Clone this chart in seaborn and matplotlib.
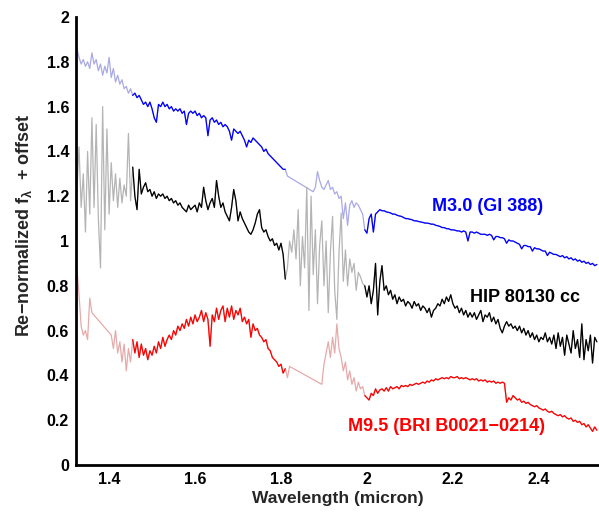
import numpy as np
import pandas as pd
import matplotlib
matplotlib.use("Agg")
import matplotlib.pyplot as plt
import seaborn as sns

nan = np.nan
# Sampling of all spectra: start 1.325 micron, step 0.005 micron, rows of 0.05 micron
WL_START = 1.325
WL_STEP = 0.005

# M3.0 (Gl 388)
m3_flux = [
    [1.86, 1.82, 1.79, 1.81, 1.78, 1.80, 1.77, 1.84, 1.79, 1.81],
    [1.76, 1.79, 1.74, 1.78, 1.75, 1.82, 1.73, 1.77, 1.71, 1.74],
    [1.70, 1.72, 1.68, 1.69, 1.66, 1.68, 1.65, 1.66, 1.64, 1.65],
    [1.63, 1.61, 1.62, 1.60, 1.62, 1.59, 1.55, 1.53, 1.61, 1.60],
    [1.62, 1.60, 1.61, 1.59, 1.60, 1.58, 1.59, 1.58, 1.59, 1.57],
    [1.58, 1.52, 1.57, 1.58, 1.57, 1.58, 1.56, 1.57, 1.55, 1.56],
    [1.55, 1.47, 1.54, 1.55, 1.53, 1.54, 1.52, 1.53, 1.51, 1.52],
    [1.51, 1.49, 1.45, 1.50, 1.49, 1.48, 1.49, 1.47, 1.45, 1.42],
    [1.45, 1.44, 1.46, 1.45, 1.44, 1.43, 1.42, 1.40, 1.41, 1.39],
    [1.38, 1.37, 1.36, 1.35, 1.34, 1.33, 1.32, 1.32, 1.29, nan],
    [nan, nan, nan, nan, nan, nan, nan, nan, nan, nan],
    [1.22, 1.24, 1.31, 1.27, 1.24, 1.23, 1.25, 1.27, 1.23, 1.24],
    [1.21, 1.22, 1.19, 1.20, 1.10, 1.17, 1.07, 1.16, 1.18, 1.15],
    [1.17, 1.16, 1.14, 1.12, 1.05, 1.035, 1.10, 1.12, 1.04, 1.12],
    [1.13, 1.14, 1.135, 1.135, 1.13, 1.128, 1.125, 1.12, 1.12, 1.115],
    [1.112, 1.11, 1.105, 1.10, 1.10, 1.097, 1.095, 1.09, 1.09, 1.087],
    [1.085, 1.083, 1.08, 1.08, 1.078, 1.075, 1.075, 1.07, 1.068, 1.065],
    [1.06, 1.06, 1.055, 1.055, 1.05, 1.05, 1.048, 1.045, 1.045, 1.04],
    [1.045, 1.04, 1.00, 1.04, 1.04, 1.035, 1.04, 1.035, 1.03, 1.03],
    [1.03, 1.025, 1.03, 1.025, 1.005, 1.02, 1.02, 1.015, 1.015, 1.01],
    [0.99, 1.005, 1.0, 1.0, 0.995, 0.99, 0.985, 0.965, 0.98, 0.98],
    [0.975, 0.975, 0.955, 0.97, 0.965, 0.965, 0.96, 0.955, 0.955, 0.935],
    [0.95, 0.945, 0.94, 0.94, 0.935, 0.93, 0.935, 0.925, 0.93, 0.92],
    [0.925, 0.915, 0.92, 0.91, 0.915, 0.905, 0.91, 0.90, 0.905, 0.895],
    [0.90, 0.89, 0.895],
]

# HIP 80130 cc
hip_flux = [
    [1.22, 1.42, 1.15, 1.30, 1.04, 1.40, 1.12, 1.55, 1.15, 1.52],
    [1.10, 0.88, 1.60, 1.05, 1.50, 1.12, 1.35, 1.18, 1.30, 1.15],
    [1.28, 1.17, 1.25, 1.20, 1.48, 1.18, 1.33, 1.20, 1.14, 1.32],
    [1.21, 1.24, 1.26, 1.22, 1.23, 1.20, 1.22, 1.19, 1.21, 1.20],
    [1.21, 1.19, 1.20, 1.18, 1.19, 1.17, 1.18, 1.16, 1.17, 1.15],
    [1.14, 1.13, 1.16, 1.14, 1.15, 1.16, 1.13, 1.17, 1.15, 1.24],
    [1.18, 1.14, 1.17, 1.19, 1.15, 1.27, 1.20, 1.15, 1.17, 1.13],
    [1.11, 1.09, 1.15, 1.23, 1.18, 1.09, 1.13, 1.10, 1.08, 1.06],
    [1.04, 1.03, 1.05, 1.08, 1.12, 1.14, 1.06, 1.04, 1.05, 1.02],
    [1.00, 1.01, 0.98, 0.99, 0.96, 0.99, 0.94, 0.83, 0.88, 1.00],
    [0.95, 1.05, 0.92, 1.14, 0.80, 1.02, 0.88, 1.24, 0.69, 1.20],
    [0.85, 1.05, 0.72, 0.98, 1.09, 0.80, 1.00, 0.68, 0.95, 1.11],
    [0.78, 0.65, 0.95, 1.125, 0.82, 0.96, 0.80, 0.92, 0.86, 0.90],
    [0.78, 0.86, 0.84, 0.81, 0.80, 0.75, 0.80, 0.72, 0.78, 0.90],
    [0.67, 0.82, 0.89, 0.78, 0.80, 0.76, 0.78, 0.74, 0.76, 0.72],
    [0.75, 0.73, 0.74, 0.71, 0.73, 0.72, 0.70, 0.73, 0.71, 0.72],
    [0.69, 0.71, 0.70, 0.68, 0.70, 0.66, 0.69, 0.70, 0.72, 0.71],
    [0.74, 0.72, 0.75, 0.73, 0.76, 0.72, 0.70, 0.71, 0.68, 0.70],
    [0.67, 0.69, 0.66, 0.68, 0.66, 0.68, 0.65, 0.67, 0.69, 0.64],
    [0.67, 0.66, 0.68, 0.64, 0.66, 0.63, 0.65, 0.61, 0.59, 0.62],
    [0.64, 0.62, 0.63, 0.61, 0.62, 0.60, 0.62, 0.59, 0.61, 0.58],
    [0.60, 0.57, 0.59, 0.56, 0.58, 0.55, 0.57, 0.56, 0.59, 0.55],
    [0.57, 0.54, 0.58, 0.52, 0.59, 0.53, 0.57, 0.49, 0.58, 0.54],
    [0.50, 0.60, 0.52, 0.56, 0.48, 0.63, 0.47, 0.56, 0.51, 0.58],
    [0.455, 0.57, 0.55],
]

# M9.5 (BRI B0021-0214)
m95_flux = [
    [0.88, 0.76, 0.62, 0.58, 0.60, 0.56, 0.745, 0.68, nan, nan],
    [nan, nan, nan, nan, nan, nan, 0.58, 0.52, 0.60, 0.50],
    [0.55, 0.46, 0.54, 0.42, 0.52, 0.46, 0.56, 0.50, 0.55, 0.48],
    [0.54, 0.49, 0.52, 0.47, 0.51, 0.49, 0.53, 0.50, 0.55, 0.52],
    [0.57, 0.53, 0.56, 0.58, 0.56, 0.60, 0.58, 0.62, 0.60, 0.63],
    [0.61, 0.65, 0.62, 0.66, 0.63, 0.67, 0.64, 0.66, 0.69, 0.64],
    [0.68, 0.65, 0.53, 0.67, 0.64, 0.70, 0.65, 0.69, 0.71, 0.64],
    [0.70, 0.66, 0.71, 0.65, 0.69, 0.67, 0.70, 0.64, 0.66, 0.63],
    [0.65, 0.57, 0.63, 0.60, 0.61, 0.58, 0.57, 0.55, 0.56, 0.52],
    [0.51, 0.48, 0.47, 0.46, 0.44, 0.45, 0.41, 0.43, 0.39, 0.44],
    [nan, nan, nan, nan, nan, nan, nan, nan, nan, nan],
    [nan, nan, nan, nan, 0.36, 0.45, 0.50, 0.55, 0.48, 0.57],
    [0.50, 0.63, 0.52, 0.48, 0.42, 0.46, 0.38, 0.42, 0.36, 0.39],
    [0.33, 0.37, 0.34, 0.35, 0.31, 0.30, 0.29, 0.32, 0.31, 0.34],
    [0.32, 0.335, 0.34, 0.33, 0.345, 0.33, 0.35, 0.34, 0.345, 0.35],
    [0.34, 0.355, 0.35, 0.355, 0.35, 0.36, 0.355, 0.36, 0.365, 0.36],
    [0.365, 0.37, 0.365, 0.375, 0.37, 0.38, 0.375, 0.385, 0.38, 0.385],
    [0.39, 0.385, 0.39, 0.385, 0.395, 0.39, 0.39, 0.395, 0.385, 0.39],
    [0.385, 0.39, 0.385, 0.38, 0.385, 0.38, 0.385, 0.375, 0.38, 0.375],
    [0.38, 0.37, 0.375, 0.37, 0.375, 0.365, 0.37, 0.365, 0.37, 0.365],
    [0.28, 0.30, 0.29, 0.31, 0.30, 0.29, 0.295, 0.28, 0.285, 0.275],
    [0.28, 0.27, 0.265, 0.26, 0.265, 0.255, 0.25, 0.245, 0.25, 0.24],
    [0.235, 0.24, 0.23, 0.225, 0.22, 0.225, 0.215, 0.22, 0.21, 0.205],
    [0.21, 0.195, 0.20, 0.19, 0.195, 0.18, 0.185, 0.17, 0.18, 0.165],
    [0.15, 0.17, 0.155],
]

# Telluric-affected wavelength bands (drawn in faded colours)
telluric_bands = [(1.30, 1.4525), (1.8125, 1.9925)]

series_names = ["M3.0 (Gl 388)", "HIP 80130 cc", "M9.5 (BRI B0021\u22120214)"]
dark_colors = ["#0000ff", "#000000", "#ff0000"]
light_colors = ["#a9a9e6", "#b4b4b4", "#e6aaaa"]
label_pos = [(2.151, 1.156), (2.24, 0.75), (1.956, 0.17)]

xticks = [1.4, 1.6, 1.8, 2.0, 2.2, 2.4]
xticklabels = ["1.4", "1.6", "1.8", "2", "2.2", "2.4"]
yticks = [0, 0.2, 0.4, 0.6, 0.8, 1.0, 1.2, 1.4, 1.6, 1.8, 2.0]
yticklabels = ["0", "0.2", "0.4", "0.6", "0.8", "1", "1.2", "1.4", "1.6", "1.8", "2"]


def build_frame(rows, name):
    for r in rows[:-1]:
        assert len(r) == 10, (name, r)
    flux = np.array([v for r in rows for v in r], dtype=float)
    wl = np.round(WL_START + WL_STEP * np.arange(len(flux)), 4)
    df = pd.DataFrame({"wavelength": wl, "flux": flux, "star": name})
    tell = np.zeros(len(df), dtype=bool)
    for lo, hi in telluric_bands:
        tell |= (df["wavelength"] >= lo) & (df["wavelength"] <= hi)
    df["telluric"] = tell
    return df


sns.set_theme(style="white")
plt.rcParams["font.family"] = ["Liberation Sans", "DejaVu Sans"]
plt.rcParams["font.weight"] = "bold"
plt.rcParams["mathtext.fontset"] = "custom"
plt.rcParams["mathtext.rm"] = "Liberation Sans:bold"
plt.rcParams["mathtext.it"] = "Liberation Sans:bold"
plt.rcParams["mathtext.bf"] = "Liberation Sans:bold"

fig = plt.figure(figsize=(5.99, 5.17), dpi=100)
ax = fig.add_axes([76 / 599, 1 - 465 / 517, 1 - 76 / 599, (465 - 17) / 517])

for rows, name, dc, lc, (tx, ty) in zip([m3_flux, hip_flux, m95_flux], series_names,
                                         dark_colors, light_colors, label_pos):
    df = build_frame(rows, name)
    full = df.dropna(subset=["flux"])
    sns.lineplot(data=full, x="wavelength", y="flux", ax=ax, color=lc,
                 linewidth=0.9, estimator=None, sort=False)
    # dark (clean) pieces: contiguous non-telluric runs
    clean = ~df["telluric"].values
    seg_id = np.cumsum(np.r_[True, clean[1:] != clean[:-1]])
    for sid in np.unique(seg_id[clean]):
        seg = df[(seg_id == sid) & clean].dropna(subset=["flux"])
        sns.lineplot(data=seg, x="wavelength", y="flux", ax=ax, color=dc,
                     linewidth=0.9, estimator=None, sort=False)
    ax.text(tx, ty, name, color=dc, fontsize=13, fontweight="bold",
            ha="left", va="center")

ax.set_xlim(1.323, 2.54)
ax.set_ylim(0, 2)
ax.set_xticks(xticks)
ax.set_xticklabels(xticklabels)
ax.set_yticks(yticks)
ax.set_yticklabels(yticklabels)
ax.set_xlabel("Wavelength (micron)", fontsize=12.5, fontweight="bold", labelpad=3)
ax.set_ylabel("Re\u2212normalized f$_{\\lambda}$  + offset", fontsize=13,
              fontweight="bold")
ax.yaxis.set_label_coords(-0.080, 0.535)
for s in ["top", "right"]:
    ax.spines[s].set_visible(False)
for s in ["left", "bottom"]:
    ax.spines[s].set_linewidth(2.0)
    ax.spines[s].set_color("black")
ax.tick_params(axis="both", direction="in", length=4, width=2, labelsize=11.5,
               colors="black", pad=5)
for lab in ax.get_xticklabels() + ax.get_yticklabels():
    lab.set_fontweight("bold")
ax.set_facecolor("white")
fig.patch.set_facecolor("white")
ax.grid(False)

fig.savefig("out.png", dpi=100, facecolor="white")
